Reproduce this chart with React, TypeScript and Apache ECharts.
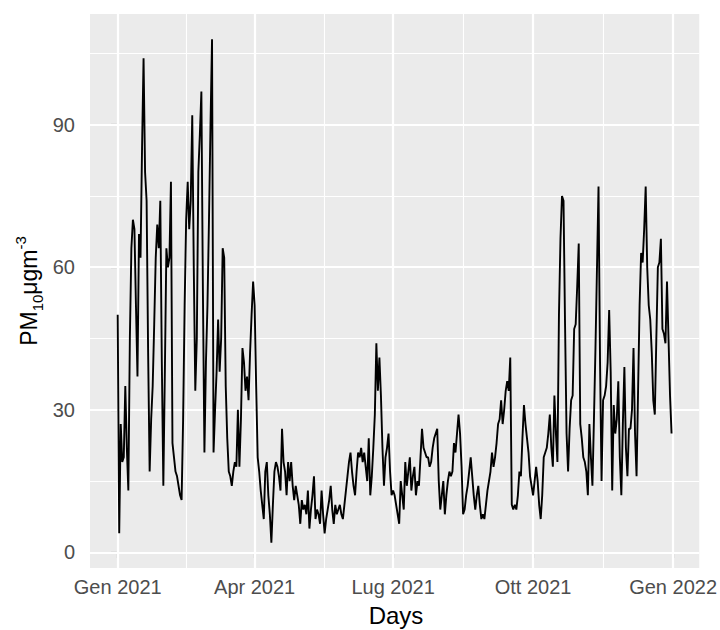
import React, { useEffect, useRef } from "react";
import * as echarts from "echarts";

// Daily PM10 values, 2021
const jan = [50, 4, 27, 19, 20, 35, 22, 13, 45, 64, 70, 68, 52, 37, 67, 62, 85, 104, 80, 74, 42, 17, 28, 35, 48, 62, 69, 64, 74, 40, 14];
const feb = [38, 64, 60, 62, 78, 23, 20, 17, 16, 14, 12, 11, 28, 52, 70, 78, 68, 74, 92, 60, 34, 45, 80, 88, 97, 55, 21, 40];
const mar = [52, 70, 90, 108, 21, 30, 38, 49, 38, 45, 64, 62, 35, 24, 17, 16, 14, 17, 19, 18, 30, 18, 28, 43, 40, 34, 37, 32, 42, 50, 57];
const apr = [52, 35, 20, 17, 13, 10, 7, 17, 19, 12, 8, 2, 10, 17, 19, 18, 16, 13, 26, 19, 17, 12, 19, 15, 19, 14, 11, 14, 12, 10];
const may = [6, 11, 9, 10, 8, 13, 5, 9, 12, 16, 7, 9, 8, 6, 13, 8, 4, 7, 9, 11, 14, 9, 6, 10, 8, 9, 10, 8, 7, 10, 13];
const jun = [16, 19, 21, 17, 14, 12, 17, 21, 20, 22, 19, 21, 18, 15, 24, 12, 16, 22, 29, 44, 34, 41, 33, 22, 14, 20, 22, 25, 17, 12];
const jul = [13, 12, 10, 8, 6, 15, 12, 9, 19, 14, 17, 20, 13, 16, 18, 12, 15, 14, 20, 26, 22, 21, 20, 20, 18, 19, 22, 24, 25, 26, 15];
const aug = [9, 12, 15, 8, 12, 15, 17, 16, 17, 23, 21, 25, 29, 25, 18, 8, 9, 12, 14, 17, 20, 16, 12, 9, 12, 14, 10, 7, 8, 7, 10];
const sep = [13, 15, 17, 21, 18, 20, 23, 27, 28, 32, 27, 30, 34, 36, 34, 41, 10, 9, 10, 9, 12, 17, 16, 24, 31, 27, 24, 21, 16, 14];
const oct = [12, 15, 18, 15, 10, 7, 12, 20, 21, 22, 25, 29, 22, 18, 33, 25, 19, 50, 66, 75, 74, 48, 25, 17, 26, 32, 33, 47, 48, 56, 65];
const nov = [27, 24, 20, 19, 17, 12, 27, 20, 14, 28, 43, 60, 77, 40, 15, 32, 33, 35, 40, 51, 38, 13, 31, 25, 28, 36, 20, 12, 27, 39];
const dec = [22, 16, 26, 26, 30, 43, 25, 16, 34, 52, 63, 61, 68, 77, 60, 52, 49, 42, 32, 29, 45, 60, 61, 66, 47, 46, 44, 57, 45, 33, 25];

// X axis: day index since 1 Jan 2021
const xTickDays = [0, 90, 181, 273, 365];
const xTickLabels = ["Gen 2021", "Apr 2021", "Lug 2021", "Ott 2021", "Gen 2022"];
const xMinorDays = [45, 135.5, 227, 319];
const yTicks = [0, 30, 60, 90];
const yMinor = [15, 45, 75, 105];

const FONT = "Liberation Sans, Arial, Helvetica, sans-serif";

export default function App() {
  const ref = useRef<HTMLDivElement>(null);

  useEffect(() => {
    document.body.style.margin = "0";
    if (!ref.current) return;
    const chart = echarts.init(ref.current, undefined, { renderer: "svg" });
    const values = [...jan, ...feb, ...mar, ...apr, ...may, ...jun, ...jul, ...aug, ...sep, ...oct, ...nov, ...dec];
    const data = values.map((v, i) => [i, v]);

    const gridLines: any[] = [];
    xTickDays.forEach((d) => gridLines.push({ xAxis: d, lineStyle: { width: 2.2 } }));
    xMinorDays.forEach((d) => gridLines.push({ xAxis: d, lineStyle: { width: 1.1 } }));
    yTicks.forEach((v) => gridLines.push({ yAxis: v, lineStyle: { width: 2.2 } }));
    yMinor.forEach((v) => gridLines.push({ yAxis: v, lineStyle: { width: 1.1 } }));

    chart.setOption({
      animation: false,
      grid: {
        left: 90,
        right: 17,
        top: 14,
        bottom: 62,
        show: true,
        backgroundColor: "#EBEBEB",
        borderWidth: 0,
      },
      xAxis: {
        type: "value",
        min: -18.2,
        max: 382.2,
        axisLine: { show: false },
        splitLine: { show: false },
        axisTick: {
          show: true,
          length: 6,
          customValues: xTickDays,
          lineStyle: { color: "#333333", width: 1.1 },
        },
        axisLabel: {
          customValues: xTickDays,
          formatter: (val: number) => {
            const i = xTickDays.indexOf(val);
            return i >= 0 ? xTickLabels[i] : "";
          },
          color: "#4D4D4D",
          fontSize: 20,
          fontFamily: FONT,
          margin: 9,
        },
      },
      yAxis: {
        type: "value",
        min: -3.3,
        max: 113.3,
        axisLine: { show: false },
        splitLine: { show: false },
        axisTick: {
          show: true,
          length: 7,
          customValues: yTicks,
          lineStyle: { color: "#333333", width: 1.1 },
        },
        axisLabel: {
          customValues: yTicks,
          color: "#4D4D4D",
          fontSize: 20,
          fontFamily: FONT,
          margin: 15,
        },
      },
      series: [
        {
          type: "line",
          data,
          z: 1,
          silent: true,
          showSymbol: false,
          symbol: "none",
          lineStyle: { opacity: 0, width: 0 },
          markLine: {
            silent: true,
            symbol: ["none", "none"],
            label: { show: false },
            z: 1,
            animation: false,
            lineStyle: { color: "#FFFFFF", type: "solid" },
            emphasis: { disabled: true },
            data: gridLines,
          },
        },
        {
          type: "line",
          data,
          z: 5,
          showSymbol: false,
          symbol: "none",
          lineStyle: { color: "#000000", width: 1.9 },
        },
      ],
      graphic: [
        {
          type: "text",
          x: 396,
          y: 615,
          style: {
            text: "Days",
            fontSize: 24,
            fontFamily: FONT,
            fill: "#000000",
            align: "center",
            verticalAlign: "middle",
          },
        },
        {
          type: "text",
          x: 29,
          y: 291,
          rotation: Math.PI / 2,
          style: {
            text: "{a|PM}{s|10}{a|μgm}{p|-3}",
            align: "center",
            verticalAlign: "middle",
            fill: "#000000",
            rich: {
              a: { fontSize: 23, fontFamily: FONT, lineHeight: 32, verticalAlign: "middle", fill: "#000000" },
              s: { fontSize: 15, fontFamily: FONT, lineHeight: 15, verticalAlign: "bottom", fill: "#000000" },
              p: { fontSize: 15, fontFamily: FONT, lineHeight: 15, verticalAlign: "top", fill: "#000000" },
            },
          },
        },
      ],
    });

    return () => chart.dispose();
  }, []);

  return <div ref={ref} style={{ width: 720, height: 630 }} />;
}
